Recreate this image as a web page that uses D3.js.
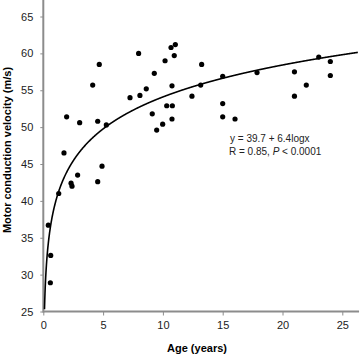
<!DOCTYPE html>
<html>
<head>
<meta charset="utf-8">
<script src="https://cdn.jsdelivr.net/npm/d3@7"></script>
<style>
  body { margin: 0; background: #fff; }
  svg { display: block; font-family: "Liberation Sans", Arial, sans-serif; }
</style>
</head>
<body>
<svg id="svg" width="360" height="357"></svg>
<script>
// Data: age (years) and motor conduction velocity (m/s)
const ages = [0.42, 0.62, 0.59, 1.29, 1.73, 1.95, 2.32, 2.4, 2.87, 3.04, 4.13, 4.55, 4.55, 4.68,
  4.91, 5.27, 7.25, 7.97, 8.08, 8.61, 9.11, 9.28, 9.48, 9.98, 10.18, 10.32, 10.68, 10.76, 10.76,
  10.79, 10.95, 11.04, 12.43, 13.16, 13.24, 15.0, 15.0, 15.0, 16.03, 17.87, 21.0, 21.0, 21.99,
  23.03, 24.0, 24.0];
const velocities = [36.7, 32.6, 28.9, 41.0, 46.5, 51.4, 42.4, 42.0, 43.5, 50.6, 55.7, 50.8, 42.6, 58.5,
  44.7, 50.3, 54.0, 60.0, 54.3, 55.2, 51.8, 57.3, 49.6, 50.4, 59.0, 52.9, 60.8, 55.6, 51.1,
  52.9, 59.7, 61.2, 54.2, 55.7, 58.5, 56.9, 53.2, 51.4, 51.1, 57.4, 57.5, 54.2, 55.7,
  59.5, 58.9, 57.0];
const xTicks = [0, 5, 10, 15, 20, 25];
const yTicks = [25, 30, 35, 40, 45, 50, 55, 60, 65];
// Log trend line as it is drawn in the picture (label says 39.7 + 6.4logx)
const fitA = 39.7, fitB = 6.25;
const fitLabel = ['y = 39.7 + 6.4logx', 'R = 0.85, '];

const svg = d3.select('#svg');
const axisGray = '#8c8c8c';

const x = d3.scaleLinear().domain([0, 25]).range([43.3, 342.3]);
const y = d3.scaleLinear().domain([25, 65]).range([311.5, 16.5]);

// axis lines, drawn a bit past the last tick like the original
svg.append('line')
  .attr('x1', x(0)).attr('x2', x(26.4))
  .attr('y1', y(25)).attr('y2', y(25))
  .attr('stroke', axisGray).attr('stroke-width', 2);
svg.append('line')
  .attr('x1', x(0)).attr('x2', x(0))
  .attr('y1', y(25) + 1).attr('y2', y(67.3))
  .attr('stroke', axisGray).attr('stroke-width', 2);

const xAxis = svg.append('g')
  .attr('transform', `translate(0,${y(25)})`)
  .call(d3.axisBottom(x).tickValues(xTicks).tickSize(4).tickSizeOuter(0).tickPadding(6));
const yAxis = svg.append('g')
  .attr('transform', `translate(${x(0)},0)`)
  .call(d3.axisLeft(y).tickValues(yTicks).tickSize(3).tickSizeOuter(0).tickPadding(7));

[xAxis, yAxis].forEach(g => {
  g.select('.domain').remove();
  g.selectAll('line').attr('stroke', axisGray);
  g.selectAll('text')
    .attr('font-size', 11)
    .attr('font-family', '"Liberation Sans", Arial, sans-serif')
    .attr('fill', '#222');
});

// fitted curve
const curveXs = d3.range(0.08, 26.31, 0.02);
const line = d3.line()
  .x(d => x(d))
  .y(d => y(fitA + fitB * Math.log(d)));
svg.append('path')
  .datum(curveXs.filter(d => fitA + fitB * Math.log(d) >= 25))
  .attr('d', line)
  .attr('fill', 'none')
  .attr('stroke', '#000')
  .attr('stroke-width', 1.6);

// data points
svg.selectAll('circle.data')
  .data(ages.map((a, i) => ({age: a, v: velocities[i]})))
  .enter().append('circle')
  .attr('class', 'data')
  .attr('cx', d => x(d.age))
  .attr('cy', d => y(d.v))
  .attr('r', 2.6)
  .attr('fill', '#000');

// equation text
const note = svg.append('g').attr('font-size', 10).attr('fill', '#222');
note.append('text').attr('x', 230).attr('y', 141.5).text(fitLabel[0]);
const r = note.append('text').attr('x', 229).attr('y', 155);
r.append('tspan').text(fitLabel[1]);
r.append('tspan').attr('font-style', 'italic').text('P');
r.append('tspan').text(' < 0.0001');

// axis titles
svg.append('text')
  .attr('x', 197).attr('y', 352)
  .attr('text-anchor', 'middle')
  .attr('font-size', 11).attr('font-weight', 'bold')
  .text('Age (years)');
svg.append('text')
  .attr('transform', 'translate(11,150) rotate(-90)')
  .attr('text-anchor', 'middle')
  .attr('font-size', 11).attr('font-weight', 'bold')
  .text('Motor conduction velocity (m/s)');
</script>
</body>
</html>
